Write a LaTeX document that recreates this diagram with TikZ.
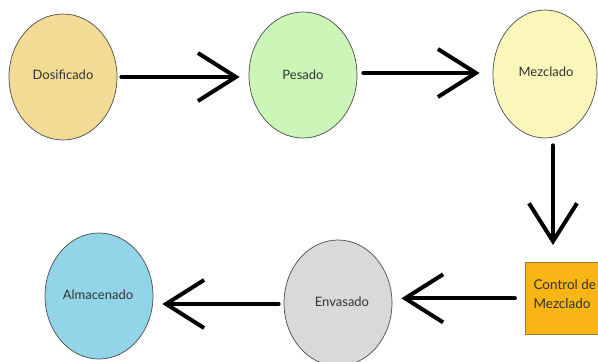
\documentclass[tikz,border=0pt]{standalone}
\usepackage{fontspec}
\setmainfont{Lato}
\usetikzlibrary{shapes.geometric,arrows.meta}
\definecolor{dosif}{HTML}{F2DC95}
\definecolor{pesad}{HTML}{CCF5B8}
\definecolor{mezcl}{HTML}{FBF6BA}
\definecolor{envas}{HTML}{D9D9D9}
\definecolor{almac}{HTML}{92D5E8}
\definecolor{ctrlfill}{HTML}{F8B515}
\definecolor{ctrlline}{HTML}{9A7A2A}
\definecolor{txt}{HTML}{333333}
\tikzset{
  labelfont/.style={text=txt, font=\fontsize{13pt}{15pt}\selectfont},
  stage/.style={ellipse, draw=black!70, line width=0.7pt, inner sep=0pt,
    minimum width=108pt, minimum height=126pt, labelfont},
  checkbox/.style={rectangle, draw=ctrlline, line width=0.7pt, fill=ctrlfill,
    minimum width=78pt, minimum height=72pt, inner sep=0pt},
  flow/.style={line width=4pt, line cap=round, line join=round,
    -{Straight Barb[length=38pt, width=48pt, line width=4pt]}}
}
\begin{document}
\begin{tikzpicture}[x=1pt, y=-1pt]
  \useasboundingbox[fill=white] (0,0) rectangle (598,362);
  % stages
  \node[stage, fill=dosif] (dos) at (63,77) {};
  \node[labelfont] at (63,75) {Dosificado};
  \node[stage, fill=pesad] (pes) at (303,75) {Pesado};
  \node[stage, fill=mezcl, minimum width=104pt, minimum height=128pt] (mez) at (545,74) {};
  \node[labelfont] at (546,72) {Mezclado};
  \node[checkbox, anchor=north west] (ctrl) at (525,262) {};
  \node[anchor=west, align=left, text=txt, font=\fontsize{13.5pt}{18.5pt}\selectfont] at (530,294) {Control de\\Mezclado};
  \node[stage, fill=envas] (env) at (338,303) {};
  \node[labelfont] at (342,302) {Envasado};
  \node[stage, fill=almac] (alm) at (99,296) {};
  \node[labelfont] at (98,295) {Almacenado};
  % connectors
  \draw[flow, shorten <=4pt, shorten >=9pt] (dos.east) -- (dos.east -| pes.west);
  \draw[flow, shorten <=6pt, shorten >=13pt] ([yshift=2pt]pes.east) -- ([yshift=2pt]pes.east -| mez.west);
  \draw[flow, shorten <=7pt, shorten >=17pt] ([xshift=8pt]mez.south) -- ([xshift=8pt]mez.south |- ctrl.north);
  \draw[flow, shorten <=10pt, shorten >=9pt] (ctrl.west) -- (ctrl.west -| env.east);
  \draw[flow, shorten <=5pt, shorten >=9pt] ([yshift=-1pt]env.west) -- ([yshift=-1pt]env.west -| alm.east);
\end{tikzpicture}
\end{document}
